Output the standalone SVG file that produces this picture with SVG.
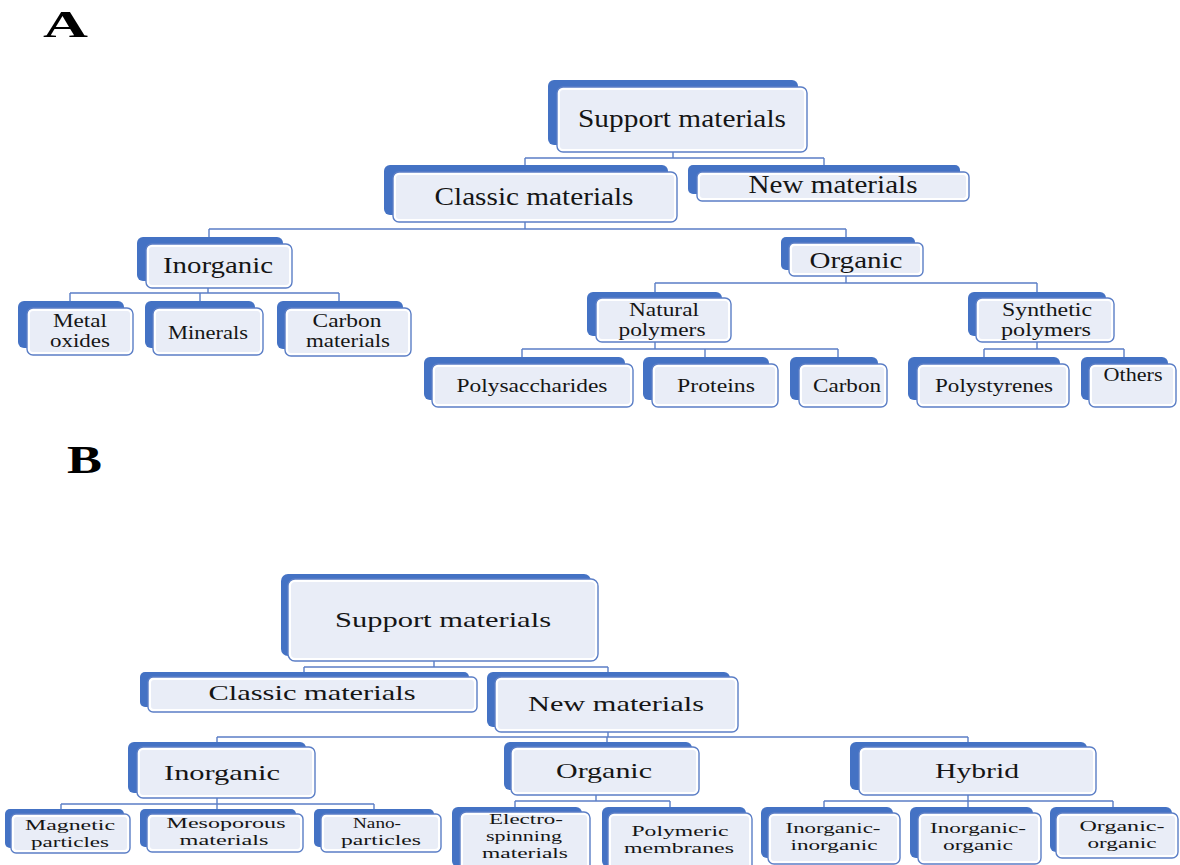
<svg xmlns="http://www.w3.org/2000/svg" width="1180" height="865" viewBox="0 0 1180 865">
<style>
.bk{fill:#4472C4}
.fr{fill:#FFFFFF;stroke:#5B7EC6;stroke-width:1.4}
.in{fill:#E9EDF7}
.t{font-family:"Liberation Serif","Times New Roman",serif;fill:#151515;text-anchor:middle}
.l{font-family:"Liberation Serif","Times New Roman",serif;font-weight:bold;fill:#000}
.c{fill:none;stroke:#5B7EC6;stroke-width:1.4}
.a1{font-size:25.5px}.a2{font-size:23.5px}.a3{font-size:18.5px}
.b1{font-size:21.5px}.b2{font-size:21.5px}.b3{font-size:15.5px}
</style>
<rect width="1180" height="865" fill="#FFFFFF"/>
<text class="l" x="43" y="37" font-size="38" textLength="45" lengthAdjust="spacingAndGlyphs">A</text>
<text class="l" x="67" y="473" font-size="40" textLength="35" lengthAdjust="spacingAndGlyphs">B</text>

<g id="connectors">
<path class="c" d="M673,152V158M525,158H824M525,158V165M824,158V165"/>
<path class="c" d="M525,222V229M209,229H846M209,229V237M846,229V237"/>
<path class="c" d="M208,288V293M70,293H339M70,293V301M200,293V301M339,293V301"/>
<path class="c" d="M846,276V283M655,283H1037M655,283V292M1037,283V292"/>
<path class="c" d="M655,342V349M522,349H838M522,349V357M705,349V357M838,349V357"/>
<path class="c" d="M1037,342V349M984,349H1124M984,349V357M1124,349V357"/>
<path class="c" d="M434,661V667M304,667H608M304,667V672M608,667V672"/>
<path class="c" d="M608,732V737M217,737H968M217,737V742M607,737V742M968,737V742"/>
<path class="c" d="M217,798V809M61,804H374M61,804V809M374,804V809"/>
<path class="c" d="M596,795V801M515,801H670M515,801V807M670,801V807"/>
<path class="c" d="M968,795V807M824,801H1113M824,801V807M1113,801V807"/>
</g>

<!-- Panel A -->
<g id="a-support"><rect class="bk" x="548" y="80" width="250" height="65" rx="6"/><rect class="fr" x="557" y="87" width="250" height="65" rx="6"/><rect class="in" x="560" y="90" width="244" height="59" rx="3"/><text class="t a1" x="682" y="127" textLength="208" lengthAdjust="spacingAndGlyphs">Support materials</text></g>
<g id="a-classic"><rect class="bk" x="384" y="165" width="284" height="50" rx="6"/><rect class="fr" x="393" y="172" width="284" height="50" rx="6"/><rect class="in" x="396" y="175" width="278" height="44" rx="3"/><text class="t a1" x="534" y="205" textLength="199" lengthAdjust="spacingAndGlyphs">Classic materials</text></g>
<g id="a-new"><rect class="bk" x="688" y="165" width="272" height="29" rx="5"/><rect class="fr" x="697" y="172" width="272" height="29" rx="5"/><rect class="in" x="700" y="175" width="266" height="23" rx="3"/><text class="t a1" x="833" y="193" textLength="169" lengthAdjust="spacingAndGlyphs">New materials</text></g>
<g id="a-inorganic"><rect class="bk" x="137" y="237" width="146" height="44" rx="6"/><rect class="fr" x="146" y="244" width="146" height="44" rx="6"/><rect class="in" x="149" y="247" width="140" height="38" rx="3"/><text class="t a2" x="218" y="273" textLength="110" lengthAdjust="spacingAndGlyphs">Inorganic</text></g>
<g id="a-organic"><rect class="bk" x="781" y="237" width="134" height="33" rx="5"/><rect class="fr" x="789" y="243" width="134" height="33" rx="5"/><rect class="in" x="792" y="246" width="128" height="27" rx="3"/><text class="t a2" x="856" y="268" textLength="93" lengthAdjust="spacingAndGlyphs">Organic</text></g>
<g id="a-metal"><rect class="bk" x="18" y="301" width="106" height="47" rx="6"/><rect class="fr" x="27" y="308" width="106" height="47" rx="6"/><rect class="in" x="30" y="311" width="100" height="41" rx="3"/><text class="t a3" x="80" y="327" textLength="54" lengthAdjust="spacingAndGlyphs">Metal</text><text class="t a3" x="80" y="347" textLength="60" lengthAdjust="spacingAndGlyphs">oxides</text></g>
<g id="a-minerals"><rect class="bk" x="145" y="301" width="110" height="47" rx="6"/><rect class="fr" x="153" y="308" width="110" height="47" rx="6"/><rect class="in" x="156" y="311" width="104" height="41" rx="3"/><text class="t a3" x="208" y="339" textLength="80" lengthAdjust="spacingAndGlyphs">Minerals</text></g>
<g id="a-carbonmat"><rect class="bk" x="277" y="301" width="126" height="48" rx="6"/><rect class="fr" x="285" y="308" width="126" height="48" rx="6"/><rect class="in" x="288" y="311" width="120" height="42" rx="3"/><text class="t a3" x="347" y="327" textLength="69" lengthAdjust="spacingAndGlyphs">Carbon</text><text class="t a3" x="348" y="347" textLength="84" lengthAdjust="spacingAndGlyphs">materials</text></g>
<g id="a-natural"><rect class="bk" x="587" y="292" width="135" height="44" rx="6"/><rect class="fr" x="596" y="298" width="135" height="44" rx="6"/><rect class="in" x="599" y="301" width="129" height="38" rx="3"/><text class="t a3" x="664" y="316" textLength="70" lengthAdjust="spacingAndGlyphs">Natural</text><text class="t a3" x="662" y="336" textLength="87" lengthAdjust="spacingAndGlyphs">polymers</text></g>
<g id="a-synthetic"><rect class="bk" x="968" y="292" width="138" height="44" rx="6"/><rect class="fr" x="976" y="298" width="138" height="44" rx="6"/><rect class="in" x="979" y="301" width="132" height="38" rx="3"/><text class="t a3" x="1047" y="316" textLength="90" lengthAdjust="spacingAndGlyphs">Synthetic</text><text class="t a3" x="1046" y="336" textLength="90" lengthAdjust="spacingAndGlyphs">polymers</text></g>
<g id="a-polysacch"><rect class="bk" x="424" y="357" width="201" height="43" rx="6"/><rect class="fr" x="432" y="364" width="201" height="43" rx="6"/><rect class="in" x="435" y="367" width="195" height="37" rx="3"/><text class="t a3" x="532" y="392" textLength="151" lengthAdjust="spacingAndGlyphs">Polysaccharides</text></g>
<g id="a-proteins"><rect class="bk" x="643" y="357" width="126" height="43" rx="6"/><rect class="fr" x="652" y="364" width="126" height="43" rx="6"/><rect class="in" x="655" y="367" width="120" height="37" rx="3"/><text class="t a3" x="716" y="392" textLength="78" lengthAdjust="spacingAndGlyphs">Proteins</text></g>
<g id="a-carbon"><rect class="bk" x="790" y="357" width="88" height="43" rx="6"/><rect class="fr" x="799" y="364" width="88" height="43" rx="6"/><rect class="in" x="802" y="367" width="82" height="37" rx="3"/><text class="t a3" x="847" y="392" textLength="68" lengthAdjust="spacingAndGlyphs">Carbon</text></g>
<g id="a-polystyrenes"><rect class="bk" x="908" y="357" width="152" height="43" rx="6"/><rect class="fr" x="917" y="364" width="152" height="43" rx="6"/><rect class="in" x="920" y="367" width="146" height="37" rx="3"/><text class="t a3" x="994" y="392" textLength="118" lengthAdjust="spacingAndGlyphs">Polystyrenes</text></g>
<g id="a-others"><rect class="bk" x="1081" y="357" width="87" height="43" rx="6"/><rect class="fr" x="1089" y="364" width="87" height="43" rx="6"/><rect class="in" x="1092" y="367" width="81" height="37" rx="3"/><text class="t a3" x="1133" y="381" textLength="59" lengthAdjust="spacingAndGlyphs">Others</text></g>

<!-- Panel B -->
<g id="b-support"><rect class="bk" x="281" y="574" width="310" height="82" rx="7"/><rect class="fr" x="288" y="579" width="310" height="82" rx="7"/><rect class="in" x="291" y="582" width="304" height="76" rx="4"/><text class="t b1" x="443" y="627" textLength="216" lengthAdjust="spacingAndGlyphs">Support materials</text></g>
<g id="b-classic"><rect class="bk" x="140" y="672" width="329" height="35" rx="5"/><rect class="fr" x="148" y="677" width="329" height="35" rx="5"/><rect class="in" x="151" y="680" width="323" height="29" rx="3"/><text class="t b1" x="312" y="700" textLength="207" lengthAdjust="spacingAndGlyphs">Classic materials</text></g>
<g id="b-new"><rect class="bk" x="487" y="672" width="243" height="55" rx="6"/><rect class="fr" x="495" y="677" width="243" height="55" rx="6"/><rect class="in" x="498" y="680" width="237" height="49" rx="3"/><text class="t b1" x="616" y="711" textLength="176" lengthAdjust="spacingAndGlyphs">New materials</text></g>
<g id="b-inorganic"><rect class="bk" x="128" y="742" width="178" height="51" rx="6"/><rect class="fr" x="137" y="747" width="178" height="51" rx="6"/><rect class="in" x="140" y="750" width="172" height="45" rx="3"/><text class="t b2" x="222" y="780" textLength="116" lengthAdjust="spacingAndGlyphs">Inorganic</text></g>
<g id="b-organic"><rect class="bk" x="504" y="742" width="188" height="48" rx="6"/><rect class="fr" x="511" y="747" width="188" height="48" rx="6"/><rect class="in" x="514" y="750" width="182" height="42" rx="3"/><text class="t b2" x="604" y="778" textLength="96" lengthAdjust="spacingAndGlyphs">Organic</text></g>
<g id="b-hybrid"><rect class="bk" x="850" y="742" width="237" height="48" rx="6"/><rect class="fr" x="859" y="747" width="237" height="48" rx="6"/><rect class="in" x="862" y="750" width="231" height="42" rx="3"/><text class="t b2" x="977" y="778" textLength="84" lengthAdjust="spacingAndGlyphs">Hybrid</text></g>
<g id="b-magnetic"><rect class="bk" x="5" y="809" width="119" height="39" rx="5"/><rect class="fr" x="11" y="814" width="119" height="39" rx="5"/><rect class="in" x="14" y="817" width="113" height="33" rx="3"/><text class="t b3" x="70" y="830" textLength="90" lengthAdjust="spacingAndGlyphs">Magnetic</text><text class="t b3" x="70" y="847" textLength="78" lengthAdjust="spacingAndGlyphs">particles</text></g>
<g id="b-mesoporous"><rect class="bk" x="140" y="809" width="156" height="38" rx="5"/><rect class="fr" x="147" y="814" width="156" height="38" rx="5"/><rect class="in" x="150" y="817" width="150" height="32" rx="3"/><text class="t b3" x="226" y="828" textLength="119" lengthAdjust="spacingAndGlyphs">Mesoporous</text><text class="t b3" x="224" y="845" textLength="89" lengthAdjust="spacingAndGlyphs">materials</text></g>
<g id="b-nano"><rect class="bk" x="314" y="809" width="120" height="38" rx="5"/><rect class="fr" x="321" y="814" width="120" height="38" rx="5"/><rect class="in" x="324" y="817" width="114" height="32" rx="3"/><text class="t b3" x="377" y="828" textLength="48" lengthAdjust="spacingAndGlyphs">Nano-</text><text class="t b3" x="381" y="845" textLength="80" lengthAdjust="spacingAndGlyphs">particles</text></g>
<g id="b-electro"><rect class="bk" x="452" y="807" width="130" height="60" rx="6"/><rect class="fr" x="460" y="812" width="130" height="60" rx="6"/><rect class="in" x="463" y="815" width="124" height="54" rx="3"/><text class="t b3" x="526" y="824" textLength="74" lengthAdjust="spacingAndGlyphs">Electro-</text><text class="t b3" x="524" y="841" textLength="76" lengthAdjust="spacingAndGlyphs">spinning</text><text class="t b3" x="525" y="858" textLength="86" lengthAdjust="spacingAndGlyphs">materials</text></g>
<g id="b-polymeric"><rect class="bk" x="602" y="807" width="144" height="60" rx="6"/><rect class="fr" x="608" y="813" width="144" height="60" rx="6"/><rect class="in" x="611" y="816" width="138" height="54" rx="3"/><text class="t b3" x="680" y="836" textLength="97" lengthAdjust="spacingAndGlyphs">Polymeric</text><text class="t b3" x="679" y="853" textLength="110" lengthAdjust="spacingAndGlyphs">membranes</text></g>
<g id="b-inorg-inorg"><rect class="bk" x="761" y="807" width="132" height="51" rx="6"/><rect class="fr" x="768" y="813" width="132" height="51" rx="6"/><rect class="in" x="771" y="816" width="126" height="45" rx="3"/><text class="t b3" x="833" y="833" textLength="95" lengthAdjust="spacingAndGlyphs">Inorganic-</text><text class="t b3" x="834" y="850" textLength="87" lengthAdjust="spacingAndGlyphs">inorganic</text></g>
<g id="b-inorg-org"><rect class="bk" x="910" y="807" width="123" height="51" rx="6"/><rect class="fr" x="918" y="813" width="123" height="51" rx="6"/><rect class="in" x="921" y="816" width="117" height="45" rx="3"/><text class="t b3" x="978" y="833" textLength="96" lengthAdjust="spacingAndGlyphs">Inorganic-</text><text class="t b3" x="978" y="850" textLength="70" lengthAdjust="spacingAndGlyphs">organic</text></g>
<g id="b-org-org"><rect class="bk" x="1050" y="807" width="122" height="45" rx="6"/><rect class="fr" x="1056" y="813" width="122" height="45" rx="6"/><rect class="in" x="1059" y="816" width="116" height="39" rx="3"/><text class="t b3" x="1122" y="831" textLength="85" lengthAdjust="spacingAndGlyphs">Organic-</text><text class="t b3" x="1122" y="848" textLength="69" lengthAdjust="spacingAndGlyphs">organic</text></g>
</svg>
